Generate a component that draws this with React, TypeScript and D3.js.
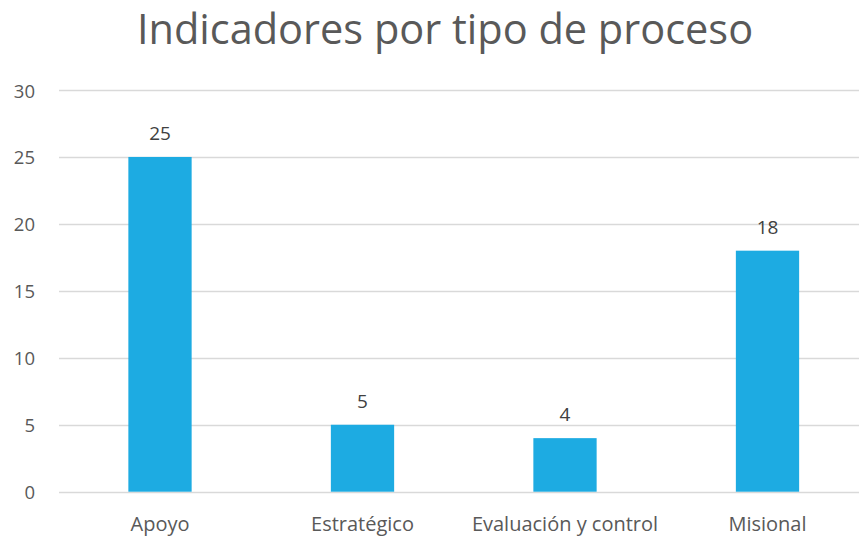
import React from "react";
import * as d3 from "d3";

const categories = ["Apoyo", "Estratégico", "Evaluación y control", "Misional"];
const values = [25, 5, 4, 18];
const yTicks = [0, 5, 10, 15, 20, 25, 30];
const title = "Indicadores por tipo de proceso";

const W = 859;
const H = 538;
const FONT = "'Open Sans', sans-serif";
const TEXT = "#595959";

export default function App() {
  const x = d3.scaleBand<string>().domain(categories).range([58.75, 868.75]).paddingInner(0.6875).paddingOuter(0.34375);
  const y = d3.scaleLinear().domain([0, 30]).range([491.7, 90]);
  return (
    <svg width={W} height={H} style={{ position: "absolute", left: 0, top: 0, background: "#fff" }}>
      <text x={445} y={44} textAnchor="middle" fontFamily={FONT} fontSize={41.5} fill={TEXT}>{title}</text>
      {yTicks.map((t) => (
        <g key={t}>
          <line x1={59} x2={W} y1={Math.round(y(t)) + 0.5} y2={Math.round(y(t)) + 0.5} stroke="#D9D9D9" strokeWidth={1.3} />
          <text x={35} y={y(t) + 7.5} textAnchor="end" fontFamily={FONT} fontSize={18.5} fill={TEXT}>{t}</text>
        </g>
      ))}
      {categories.map((c, i) => (
        <g key={c}>
          <rect x={x(c)} y={y(values[i])} width={x.bandwidth()} height={y(0) - y(values[i])} fill="#1DABE2" />
          <text x={x(c)! + x.bandwidth() / 2} y={y(values[i]) - 17} textAnchor="middle" fontFamily={FONT} fontSize={19} fill="#404040">{values[i]}</text>
          <text x={x(c)! + x.bandwidth() / 2} y={531} textAnchor="middle" fontFamily={FONT} fontSize={20} fill={TEXT}>{c}</text>
        </g>
      ))}
    </svg>
  );
}
